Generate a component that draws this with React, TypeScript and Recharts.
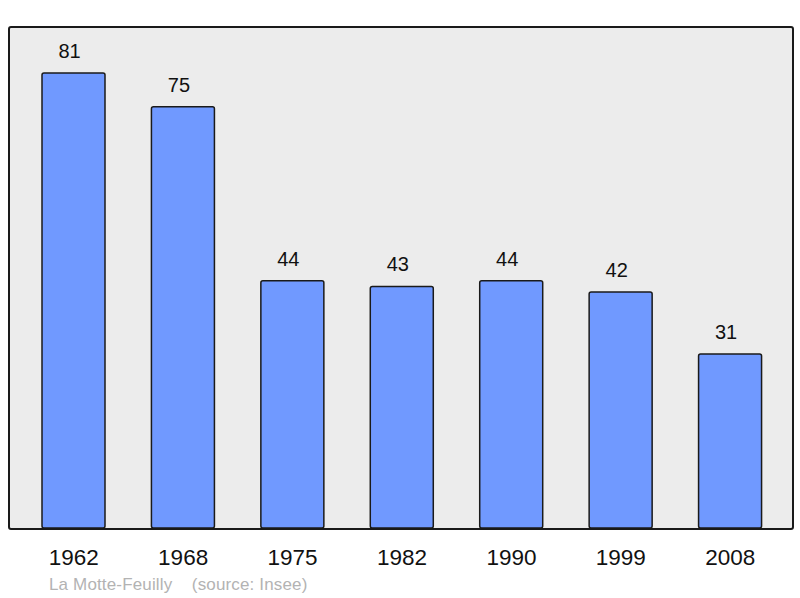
import { BarChart, Bar, XAxis, YAxis, LabelList } from "recharts";

const years = ["1962", "1968", "1975", "1982", "1990", "1999", "2008"];
const population = [81, 75, 44, 43, 44, 42, 31];

const data = years.map((year, i) => ({ year, pop: population[i] }));

const font = "'Liberation Sans', Arial, sans-serif";

export default function App() {
  return (
    <div style={{ position: "absolute", left: 0, top: 0, width: 800, height: 598, background: "#fff", fontFamily: font }}>
      {/* plot frame */}
      <div
        style={{
          position: "absolute",
          left: 8,
          top: 26,
          width: 782,
          height: 500,
          background: "#ececec",
          border: "2px solid #1a1a1a",
          borderRadius: 3,
        }}
      />
      <div style={{ position: "absolute", left: 0, top: 0 }}>
        <BarChart width={800} height={598} data={data} margin={{ top: 27, right: 8, bottom: 0, left: 9 }}>
          <YAxis hide domain={[0, 89.2]} />
          <XAxis
            dataKey="year"
            height={70}
            padding={{ left: 10, right: 7 }}
            axisLine={false}
            tickLine={false}
            tickMargin={15}
            tick={{ fill: "#111", fontSize: 22.5, fontFamily: font }}
          />
          <Bar
            dataKey="pop"
            fill="#7099ff"
            stroke="#1a1a1a"
            strokeWidth={1.5}
            barSize={63}
            radius={2}
            isAnimationActive={false}
          >
            <LabelList dataKey="pop" position="top" offset={15} dx={-4} fill="#111" fontSize={20} fontFamily={font} />
          </Bar>
        </BarChart>
      </div>
      <div style={{ position: "absolute", left: 49, top: 575, fontSize: 17, color: "#b3b3b3", whiteSpace: "pre", letterSpacing: 0.15 }}>
        {"La Motte-Feuilly    (source: Insee)"}
      </div>
    </div>
  );
}
